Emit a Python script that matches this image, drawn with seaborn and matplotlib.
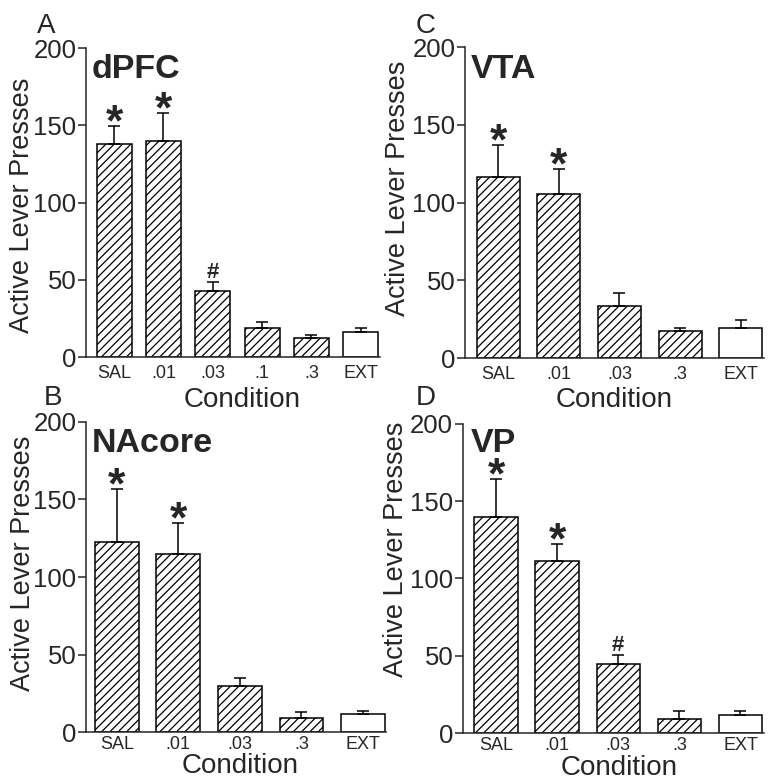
import numpy as np
import pandas as pd
import matplotlib
matplotlib.use("Agg")
import matplotlib.pyplot as plt
import seaborn as sns

# panel A - dPFC
cond_a = ["SAL", ".01", ".03", ".1", ".3", "EXT"]
mean_a = [138, 140, 43, 19, 12, 16]
err_a = [11.5, 18, 5.5, 3.5, 2, 2.7]
mark_a = ["*", "*", "#", "", "", ""]

# panel B - NAcore
cond_b = ["SAL", ".01", ".03", ".3", "EXT"]
mean_b = [122.5, 115, 29.5, 9, 12]
err_b = [34.5, 20, 5.7, 4, 1.5]
mark_b = ["*", "*", "", "", ""]

# panel C - VTA
cond_c = ["SAL", ".01", ".03", ".3", "EXT"]
mean_c = [116.5, 105.5, 33.5, 17.5, 19.3]
err_c = [20.5, 16, 8.5, 2, 5]
mark_c = ["*", "*", "", "", ""]

# panel D - VP
cond_d = ["SAL", ".01", ".03", ".3", "EXT"]
mean_d = [140, 111.5, 44.5, 9, 11.8]
err_d = [24.5, 11, 6, 5.5, 2.5]
mark_d = ["*", "*", "#", "", ""]

sns.set_style("ticks")
plt.rcParams["font.family"] = ["Liberation Sans", "DejaVu Sans"]
plt.rcParams["axes.linewidth"] = 1.1
plt.rcParams["hatch.linewidth"] = 0.9
plt.rcParams["hatch.color"] = "black"

fig = plt.figure(figsize=(7.72, 7.80), dpi=100)


def draw_panel(rect, conds, means, errs, marks, title, xlim, ylab_xy, xlab_xy, title_xy, xpad):
    ax = fig.add_axes(rect)
    df = pd.DataFrame({"Condition": conds, "Presses": means})
    sns.barplot(data=df, x="Condition", y="Presses", ax=ax, color="white",
                edgecolor="black", linewidth=1.1, hatch="////", width=0.71,
                errorbar=None, saturation=1)
    # last bar (EXT) is open
    ax.patches[len(conds) - 1].set_hatch("")
    n = len(conds)
    xs = np.arange(n)
    ax.errorbar(xs, means, yerr=[np.zeros(n), errs], fmt="none", ecolor="black",
                elinewidth=1.1, capsize=4, capthick=1.1, zorder=3)
    for x, m, e, s in zip(xs, means, errs, marks):
        if s == "*":
            ax.annotate(s, (x, m + e), xytext=(0, -7), textcoords="offset points",
                        ha="center", va="baseline", fontsize=32, fontweight="bold")
        elif s == "#":
            ax.annotate(s, (x, m + e), xytext=(0, 3), textcoords="offset points",
                        ha="center", va="baseline", fontsize=16, fontweight="bold")
    ax.set_ylim(0, 200)
    ax.set_xlim(*xlim)
    ax.set_yticks([0, 50, 100, 150, 200])
    sns.despine(ax=ax)
    ax.tick_params(axis="y", length=6, width=1.1, labelsize=18.5, pad=1)
    ax.tick_params(axis="x", length=0, labelsize=13, pad=xpad)
    ax.set_ylabel("Active Lever Presses", fontsize=19.5)
    ax.set_xlabel("Condition", fontsize=20)
    ax.yaxis.set_label_coords(*ylab_xy)
    ax.xaxis.set_label_coords(*xlab_xy)
    ax.text(title_xy[0], title_xy[1], title, transform=ax.transAxes,
            fontsize=24.5, fontweight="bold", ha="left", va="baseline")
    return ax


draw_panel([0.1114, 0.5423, 0.3808, 0.396], cond_a, mean_a, err_a, mark_a, "dPFC",
           (-0.57, 5.39), (-0.172, 0.49), (0.531, -0.097), (0.019, 0.903), 6)
draw_panel([0.6023, 0.541, 0.3873, 0.3987], cond_c, mean_c, err_c, mark_c, "VTA",
           (-0.545, 4.38), (-0.18, 0.545), (0.498, -0.093), (0.02, 0.90), 6)
draw_panel([0.1114, 0.0612, 0.3886, 0.398], cond_b, mean_b, err_b, mark_b, "NAcore",
           (-0.50, 4.375), (-0.168, 0.545), (0.513, -0.066), (0.02, 0.902), 2.5)
draw_panel([0.5997, 0.0599, 0.39, 0.397], cond_d, mean_d, err_d, mark_d, "VP",
           (-0.54, 4.386), (-0.18, 0.593), (0.52, -0.071), (0.027, 0.907), 2.5)

for lab, x, y in [("A", 0.048, 0.958), ("C", 0.539, 0.958), ("B", 0.057, 0.481), ("D", 0.539, 0.481)]:
    fig.text(x, y, lab, fontsize=20, ha="left", va="baseline")

fig.savefig("out.png", dpi=100, facecolor="white")
